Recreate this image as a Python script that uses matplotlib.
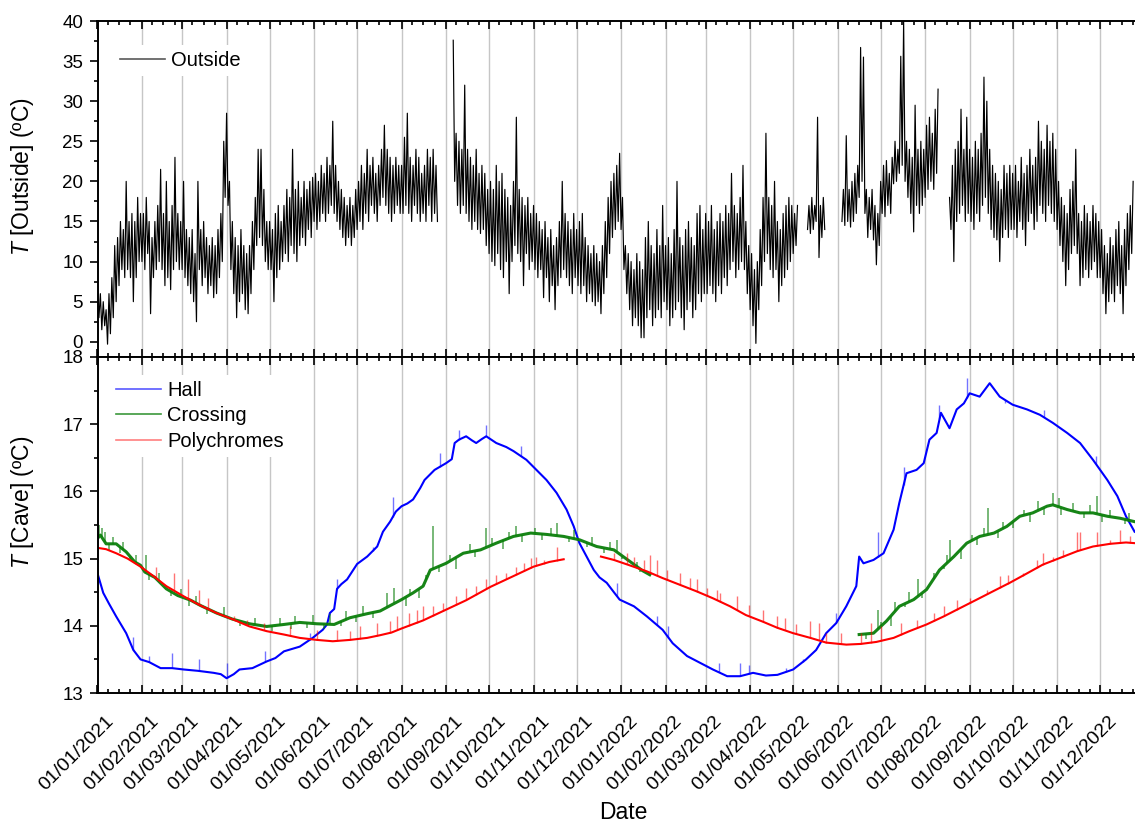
import datetime as dt

import numpy as np
import matplotlib
matplotlib.use('Agg')
import matplotlib.pyplot as plt
import matplotlib.dates as mdates
from matplotlib.lines import Line2D
from matplotlib.ticker import MultipleLocator
from matplotlib.transforms import ScaledTranslation

plt.rcParams['font.family'] = 'Liberation Sans'
plt.rcParams['mathtext.fontset'] = 'custom'
plt.rcParams['mathtext.it'] = 'Liberation Sans:italic'
plt.rcParams['mathtext.rm'] = 'Liberation Sans'

nan = np.nan

# outside air temperature, daily high / low readings from 01/01/2021 (nan = logger gap)
outside_temp = [
    # 2021
    7, 3, 6, 1.5, 5, 2, 4, -0.3, 6, 1, 8, 3, 12, 5, 13, 7, 15, 9, 14, 8, 20, 9, 15, 8, 16, 5, 15, 8, 18, 10, 16,
    10, 16, 9, 18, 11, 15, 3.5, 13, 8, 15, 9, 17, 10, 21.5, 9, 16, 7, 20, 8, 15, 6.5, 17, 9, 23, 10, 16, 9, 15,
    9, 20, 8, 14, 7, 13, 6, 14, 5, 11, 2.5, 20, 9, 14, 7, 15, 8, 13, 6, 12, 7, 13, 5.5, 12, 6, 14, 8, 16, 10, 25, 18,
    28.5, 17, 20, 9, 15, 6, 13, 3, 12, 5, 14, 6, 12, 4, 11, 3.5, 12, 6, 15, 9, 18, 12, 24, 13, 24, 12, 19, 10, 15, 9,
    15, 9, 14, 5, 16, 8, 17, 9, 15, 10, 17, 11, 19, 10, 18, 12, 24, 11, 19, 10, 20, 12, 18, 13, 20, 12, 19, 14, 20, 13, 20.5,
    15, 21, 14, 20, 15, 22, 16, 21, 15, 23, 16, 22, 17, 27.5, 16, 22, 15, 20, 14, 19, 13, 18, 12, 17, 13, 18, 12, 17, 13, 19,
    14, 20, 15, 22, 14, 21, 16, 24, 15, 22, 17, 23, 16, 21, 15, 22, 17, 24, 18, 27, 17, 24, 16, 23, 15, 22, 16, 23, 17, 22, 16,
    22, 16, 25.5, 17, 28.5, 16, 23, 15, 22, 17, 24, 16, 23, 15, 21, 16, 22, 15, 24, 17, 23, 15, 24, 16, 22, 15, nan, nan, nan, nan, nan,
    nan, nan, nan, nan, nan, 37.6, 20, 26, 17, 25, 16, 24, 17, 32, 16, 24, 15, 23, 14, 22, 15, 24, 14, 21, 13.5, 22, 14, 21, 12, 19,
    11, 20, 10, 19, 9.5, 22, 11, 20, 9, 21, 8, 19, 10, 18, 6, 17, 10, 20, 12, 28, 11, 19, 10, 18, 7, 17, 11, 18, 9, 16, 10,
    17, 9, 16, 8, 15, 9, 14, 5.5, 15, 8, 13, 5, 14, 7, 12, 4, 13, 7, 15, 8, 20, 9, 16, 8, 15, 7, 14, 6, 16, 8,
    14, 7, 15, 6, 16, 7, 13, 5, 12, 6, 11, 5, 12, 4.5, 11, 5, 10, 3.5, 12, 6, 15, 8, 18, 11, 20, 13, 21, 14, 22, 15, 23.5,
    # 2022
    14, 18, 9, 12, 6, 11, 4, 10, 2, 9, 3, 11, 2, 10, 0.5, 9, 0.5, 13, 3, 15, 4, 12, 2, 11, 3, 14, 4, 12, 3, 17, 5,
    12, 4, 13, 2, 11, 3, 14, 4, 20, 5, 13, 3, 12, 1.5, 14, 4, 15, 5, 13, 3, 12, 4, 16, 6, 17, 5, 14, 6,
    16, 6, 15, 7, 17, 6, 14, 5, 15, 7, 16, 6, 15, 8, 17, 7, 16, 9, 21, 10, 17, 8, 16, 9, 18, 10, 22, 9, 15, 6, 12,
    4, 11, 2, 9, -0.2, 10, 4, 14, 7, 18, 10, 26, 11, 18, 9, 17, 8, 20, 9, 15, 5, 14, 7, 16, 8, 17, 9, 18, 10, 17,
    11, 16, 12, 17, nan, nan, nan, nan, nan, nan, 14, 17, 13.5, 18, 14, 17, 15, 28, 10.5, 17, 13, 18, 14,
    nan, nan, nan, nan, nan, nan, nan, nan,
    nan, nan, nan, 15, 19, 14.5, 25.7, 15, 19, 14.3, 20, 15, 21, 16, 22, 18, 36.7, 20, 35.5, 16, 19, 13, 18, 14, 19, 12.7, 17, 9.6, 16, 12,
    20, 16, 22, 15.6, 22.6, 17, 21, 16, 23, 19.7, 25, 20, 24, 21, 35.6, 22, 40, 20, 25, 18, 24, 16, 23, 13.7, 29.5, 17, 24, 16, 25, 17, 24,
    18, 27, 19, 28, 20, 26, 19, 29, 21, 31.5, nan, nan, nan, nan, nan, nan, nan, 18, 14, 22, 10, 24, 15, 25, 16, 29, 17, 24, 15, 28, 16,
    24, 15, 23, 14, 25, 16, 24, 15, 26, 17, 33, 18, 30, 16, 24, 14, 22, 13, 21, 12.7, 20, 10, 19, 13, 22, 14, 21, 13, 22, 14,
    21, 14, 22, 13, 20, 15, 23, 14, 21, 12, 22, 15, 24, 16, 22, 14, 23, 15, 27.5, 17, 25, 16, 24, 15, 27, 17, 25, 16, 26, 15, 24,
    14, 20, 12, 18, 10, 17, 7, 16, 9, 19, 11, 20, 12, 24, 11, 16, 7, 15, 8, 17, 9, 16, 8, 15, 9, 17, 10, 16, 8, 15,
    8, 14, 6, 12, 3.5, 11, 5, 13, 6, 12, 5, 14, 7, 15, 6, 12, 3.5, 14, 7, 16, 9, 17, 11, 20,
]

# cave loggers: day since 01/01/2021, temperature
hall_days = [0, 4, 8, 13, 20, 25, 30, 36, 44, 52, 60, 70, 81, 86, 90, 95, 99, 108,
             118, 124, 130, 141, 150, 157, 160, 162, 165, 167, 170, 174, 181, 188,
             195, 199, 204, 208, 212, 216, 220, 225, 228, 235, 243, 247, 249, 252,
             257, 261, 264, 268, 271, 278, 285, 290, 299, 306, 313, 320, 327, 332,
             336, 341, 346, 350, 355, 360, 364, 374, 383, 394, 401, 411, 420, 429,
             439, 448, 457, 466, 474, 485, 494, 501, 508, 515, 522, 529, 531, 534,
             541, 548, 555, 559, 564, 571, 576, 580, 585, 588, 594, 599, 604, 608,
             615, 622, 629, 638, 648, 657, 666, 676, 685, 694, 704, 711, 717, 723]
hall_temp = [14.78, 14.49, 14.33, 14.14, 13.89, 13.64, 13.50, 13.46, 13.37, 13.37,
             13.35, 13.33, 13.30, 13.28, 13.22, 13.28, 13.35, 13.37, 13.47, 13.52,
             13.62, 13.69, 13.82, 13.94, 14.02, 14.19, 14.25, 14.55, 14.62, 14.69,
             14.92, 15.03, 15.18, 15.40, 15.55, 15.70, 15.78, 15.82, 15.88, 16.05,
             16.17, 16.32, 16.42, 16.48, 16.72, 16.77, 16.82, 16.76, 16.72, 16.78,
             16.82, 16.72, 16.66, 16.60, 16.47, 16.32, 16.17, 15.98, 15.73, 15.48,
             15.23, 15.03, 14.83, 14.72, 14.64, 14.50, 14.39, 14.29, 14.14, 13.94,
             13.74, 13.55, 13.45, 13.35, 13.25, 13.25, 13.30, 13.26, 13.27, 13.35,
             13.50, 13.64, 13.89, 14.04, 14.29, 14.59, 15.03, 14.93, 14.98, 15.08,
             15.43, 15.83, 16.27, 16.32, 16.42, 16.77, 16.87, 17.17, 16.94, 17.22,
             17.31, 17.46, 17.41, 17.61, 17.41, 17.29, 17.22, 17.14, 17.02, 16.87,
             16.72, 16.47, 16.17, 15.93, 15.63, 15.40]

crossing_days = [0, 2, 6, 13, 20, 26, 30, 33, 40, 48, 56, 65, 72, 83, 94, 106, 118,
                 130, 141, 153, 165, 176, 188, 197, 204, 212, 220, 227, 232, 243,
                 255, 267, 278, 290, 302, 313, 325, 336, 348, 360, 371, 380, 385,
                 386,
                 531, 541, 550, 559, 569, 578, 587, 597, 606, 615, 625, 634, 643,
                 652, 662, 666, 676, 685, 694, 704, 713, 723]
crossing_temp = [15.30, 15.35, 15.22, 15.22, 15.10, 14.95, 14.90, 14.80, 14.72,
                 14.55, 14.45, 14.38, 14.30, 14.19, 14.10, 14.03, 13.99, 14.02,
                 14.05, 14.03, 14.02, 14.12, 14.18, 14.22, 14.30, 14.39, 14.49,
                 14.59, 14.83, 14.93, 15.08, 15.13, 15.23, 15.33, 15.38, 15.36,
                 15.33, 15.28, 15.18, 15.13, 14.96, 14.82, 14.76,
                 nan,
                 13.87, 13.89, 14.07, 14.29, 14.39, 14.54, 14.83, 15.03, 15.23,
                 15.33, 15.38, 15.48, 15.63, 15.68, 15.78, 15.80, 15.73, 15.68,
                 15.68, 15.63, 15.60, 15.55]

poly_days = [0, 6, 13, 21, 30, 39, 48, 60, 71, 83, 95, 106, 118, 130, 141, 153,
             164, 176, 188, 197, 205, 212, 227, 243, 257, 274, 290, 304, 315, 325,
             326,
             351, 360, 371, 383, 394, 406, 418, 429, 441, 452, 464, 474, 485, 497,
             508, 522, 532, 543, 555, 566, 578, 590, 601, 613, 624, 636, 648, 659,
             671, 683, 694, 706, 717, 723]
poly_temp = [15.16, 15.14, 15.08, 15.00, 14.88, 14.74, 14.59, 14.44, 14.31, 14.19,
             14.09, 13.99, 13.92, 13.87, 13.82, 13.79, 13.77, 13.79, 13.82, 13.86,
             13.90, 13.96, 14.08, 14.24, 14.38, 14.58, 14.74, 14.88, 14.95, 14.99,
             nan,
             15.03, 14.98, 14.90, 14.81, 14.71, 14.61, 14.51, 14.41, 14.29, 14.16,
             14.06, 13.97, 13.89, 13.82, 13.75, 13.72, 13.73, 13.76, 13.82, 13.92,
             14.02, 14.14, 14.26, 14.39, 14.51, 14.64, 14.78, 14.91, 15.01, 15.11,
             15.18, 15.22, 15.24, 15.23]

# short excursions off the logged curve (day, reading)
hall_spike_days = [25, 36, 52, 71, 90, 117, 148, 167, 192, 206, 239, 252, 271, 295,
                   362, 390, 398, 433, 448, 454, 480, 492, 515, 544, 562, 587, 606,
                   633, 660, 696]
hall_spike_tops = [13.84, 13.55, 13.60, 13.50, 13.45, 13.62, 13.89, 14.69, 15.18,
                   15.92, 16.57, 16.92, 16.99, 16.67, 14.64, 14.14, 13.99, 13.45,
                   13.45, 13.42, 13.37, 13.50, 14.19, 15.40, 16.37, 17.29, 17.69,
                   17.31, 17.21, 16.52]

crossing_spike_days = [1, 5, 34, 202, 207, 234, 271, 292, 320, 362, 544, 572, 594,
                       621, 666, 697,
                       3, 8, 11, 16, 18, 23, 27, 36, 43, 51, 58, 64, 69, 76, 88, 99,
                       110, 122, 127, 135, 138, 146, 150, 158, 162, 170, 173, 180, 185,
                       192, 215, 218, 224, 229, 238, 246, 250, 260, 263, 275, 283, 287,
                       296, 305, 310, 316, 329, 332, 341, 345, 353, 357, 366, 376, 378,
                       536, 546, 553, 556, 563, 566, 575, 583, 590, 592, 602, 610, 613,
                       618, 628, 631, 638, 646, 650, 656, 660, 670, 672, 680, 688, 692,
                       700, 706, 716, 719]
crossing_spike_tops = [15.50, 15.40, 15.05, 14.49, 14.56, 15.48, 15.45, 15.48, 15.53,
                       15.28, 14.24, 14.69, 15.28, 15.75, 15.98, 15.93,
                       15.45, 15.12, 15.32, 15.08, 15.25, 14.98, 15.05, 14.68, 14.78,
                       14.45, 14.55, 14.30, 14.45, 14.18, 14.28, 14.00, 14.12, 13.92,
                       14.12, 13.95, 14.15, 13.96, 14.16, 13.95, 14.18, 14.00, 14.22,
                       14.05, 14.30, 14.12, 14.30, 14.55, 14.42, 14.75, 14.80, 15.05,
                       14.85, 15.22, 15.02, 15.30, 15.15, 15.40, 15.25, 15.45, 15.28,
                       15.46, 15.25, 15.42, 15.18, 15.32, 15.08, 15.25, 15.00, 14.95,
                       14.80,
                       13.80, 14.05, 14.00, 14.35, 14.28, 14.50, 14.42, 14.78, 14.85,
                       15.05, 15.00, 15.35, 15.20, 15.45, 15.30, 15.55, 15.45, 15.72,
                       15.55, 15.85, 15.65, 15.90, 15.65, 15.82, 15.60, 15.80, 15.55,
                       15.72, 15.52, 15.68]

poly_spike_days = [41, 53, 63, 71, 77, 95, 104, 116, 134, 153, 167, 176, 183, 195,
                   204, 209, 217, 223, 227, 234, 241, 250, 257, 264, 271, 278, 285,
                   292, 297, 302, 306, 311, 320, 360, 369, 374, 381, 385, 390, 397,
                   406, 413, 418, 425, 432, 434, 446, 454, 464, 474, 479, 487, 497,
                   503, 508, 518, 532, 539, 546, 560, 571, 583, 590, 599, 608, 620,
                   629, 635, 645, 655, 659, 666, 673, 683, 685, 697, 706, 713, 720]
poly_spike_tops = [14.88, 14.79, 14.69, 14.54, 14.41, 14.14, 14.09, 14.04, 13.99,
                   13.94, 13.94, 13.92, 13.99, 14.04, 14.07, 14.14, 14.19, 14.24,
                   14.29, 14.29, 14.34, 14.44, 14.56, 14.59, 14.69, 14.76, 14.79,
                   14.88, 14.93, 15.01, 15.03, 14.98, 15.18, 15.08, 15.08, 15.03,
                   14.98, 15.06, 14.98, 14.83, 14.78, 14.71, 14.69, 14.56, 14.54,
                   14.49, 14.44, 14.31, 14.24, 14.14, 14.12, 14.02, 14.07, 14.04,
                   13.89, 13.89, 13.89, 14.04, 13.99, 14.04, 14.09, 14.19, 14.29,
                   14.39, 14.41, 14.54, 14.74, 14.76, 14.79, 14.98, 15.08, 15.03,
                   15.13, 15.40, 15.40, 15.40, 15.28, 15.43, 15.33]

start = mdates.date2num(dt.datetime(2021, 1, 1))
x_end = 723.3

out = np.array(outside_temp, dtype=float)
out_days = np.arange(len(out), dtype=float)


def spikes(ax, days, temps, s_days, s_tops, color, lw=1.0, alpha=0.55):
    days = np.asarray(days, float)
    temps = np.asarray(temps, float)
    ok = ~np.isnan(temps)
    base = np.interp(s_days, days[ok], temps[ok])
    ax.vlines(start + np.asarray(s_days), base, s_tops, color=color, lw=lw, alpha=alpha)


fig = plt.figure(figsize=(11.35, 8.22), dpi=100)
left = 97.5 / 1135
ax1 = fig.add_axes([left, 1 - 357 / 822, 1 - left, 336 / 822])
ax2 = fig.add_axes([left, 1 - 693 / 822, 1 - left, 336 / 822], sharex=ax1)

# top: outside
ax1.plot(start + out_days, out, color='black', lw=0.85)

# bottom: cave
ax2.plot(start + np.array(hall_days), hall_temp, color='#0000ff', lw=1.5)
spikes(ax2, hall_days, hall_temp, hall_spike_days, hall_spike_tops, '#0000ff')
ax2.plot(start + np.array(crossing_days), crossing_temp, color='#0a7f0a', lw=2.2,
         alpha=0.95)
spikes(ax2, crossing_days, crossing_temp, crossing_spike_days, crossing_spike_tops,
       '#0a7f0a', lw=1.1, alpha=0.7)
ax2.plot(start + np.array(poly_days), poly_temp, color='#ff0000', lw=1.5)
spikes(ax2, poly_days, poly_temp, poly_spike_days, poly_spike_tops, '#ff0000')

ax1.set_xlim(start, start + x_end)
ax1.set_ylim(-1.9, 40)
ax2.set_ylim(13, 18)
ax1.yaxis.set_major_locator(MultipleLocator(5))
ax1.yaxis.set_minor_locator(MultipleLocator(2.5))
ax2.yaxis.set_major_locator(MultipleLocator(1))
ax2.yaxis.set_minor_locator(MultipleLocator(0.5))

for ax in (ax1, ax2):
    ax.xaxis.set_major_locator(mdates.MonthLocator())
    ax.xaxis.set_minor_locator(mdates.DayLocator(bymonthday=[8, 16, 24]))
    ax.xaxis.set_major_formatter(mdates.DateFormatter('%d/%m/%Y'))
    ax.spines['right'].set_visible(False)
    for s in ('left', 'top', 'bottom'):
        ax.spines[s].set_linewidth(1.4)
    ax.tick_params(axis='x', which='both', direction='in', top=True, bottom=True, width=1.2)
    ax.tick_params(axis='x', which='major', length=5.8)
    ax.tick_params(axis='x', which='minor', length=3.0)
    ax.tick_params(axis='y', which='both', direction='out', width=1.2, labelsize=13.5, pad=4.5)
    ax.tick_params(axis='y', which='major', length=5.8)
    ax.tick_params(axis='y', which='minor', length=3.0)
    ax.grid(True, axis='x', which='major', color='#c6c6c6', lw=1.0)

ax1.tick_params(axis='x', labelbottom=False)
ax2.tick_params(axis='x', which='major', labelsize=14, pad=18.5)
for lbl in ax2.get_xticklabels():
    lbl.set_rotation(45)
    lbl.set_ha('right')
    lbl.set_va('center')
    lbl.set_rotation_mode('anchor')
    lbl.set_transform(lbl.get_transform() + ScaledTranslation(0.14, 0, fig.dpi_scale_trans))

ax1.set_ylabel(r'$T$ [Outside] (ºC)', fontsize=16.5)
ax1.yaxis.set_label_coords(-0.059, 0.536)
ax2.set_ylabel(r'$T$ [Cave] (ºC)', fontsize=16.5)
ax2.yaxis.set_label_coords(-0.059, 0.568)
ax2.set_xlabel('Date', fontsize=16.5)
ax2.xaxis.set_label_coords(0.5065, -0.321)

leg_kw = dict(loc='upper left', frameon=True, facecolor='white', edgecolor='none',
              framealpha=1, fancybox=False, fontsize=14.5, borderpad=0.3,
              handlelength=2.25, handletextpad=0.3, labelspacing=0.32,
              borderaxespad=0, bbox_transform=fig.transFigure)
ax1.legend([Line2D([], [], color='black', alpha=0.65, lw=1.2)], ['Outside'],
           bbox_to_anchor=(114 / 1135, 1 - 45 / 822), **leg_kw)
ax2.legend([Line2D([], [], color='#0000ff', alpha=0.65, lw=1.2),
            Line2D([], [], color='#0a7f0a', alpha=0.8, lw=1.2),
            Line2D([], [], color='#ff0000', alpha=0.5, lw=1.2)],
           ['Hall', 'Crossing', 'Polychromes'],
           bbox_to_anchor=(110 / 1135, 1 - 375 / 822), **leg_kw)

fig.savefig('out.png', dpi=100)
